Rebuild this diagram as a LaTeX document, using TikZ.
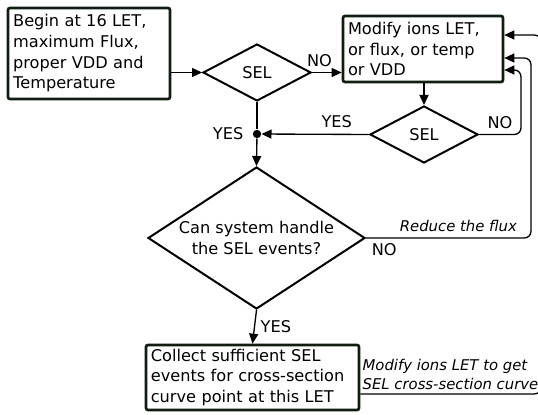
\documentclass[tikz,border=0pt]{standalone}
\usepackage{fontspec}
\setmainfont{DejaVu Sans}
\usetikzlibrary{shapes.geometric,arrows.meta,calc}
\definecolor{boxline}{RGB}{18,28,18}

\begin{document}
\begin{tikzpicture}[x=0.6pt, y=-0.6pt, >={Triangle[length=6pt,width=5.4pt]},
    font=\fontsize{9.7}{12.4}\selectfont,
    box/.style={draw=boxline, line width=1.6pt, rounded corners=1.2pt, align=left, inner xsep=2.6pt, inner ysep=0pt},
    test/.style={diamond, draw, line width=1.2pt, inner sep=0pt},
    flow/.style={line width=0.8pt},
    note/.style={font=\fontsize{8.9}{11.4}\selectfont\itshape}]

\useasboundingbox (0,0) rectangle (538,415);

% boxes
\node[box, text width=91pt, minimum width=97.2pt, minimum height=54.6pt] (start) at (89,53.5)
    {Begin at 16 LET,\\maximum Flux,\\proper VDD and\\Temperature};
\node[box, text width=90pt, minimum width=96pt, minimum height=39.6pt] (modify) at (423,49)
    {Modify ions LET,\\or flux, or temp\\or VDD};
\node[box, text width=122pt, minimum width=127.8pt, minimum height=39pt] (collect) at (252.5,377.5)
    {Collect sufficient SEL\\events for cross-section\\curve point at this LET};

% decisions
\node[test, aspect=1.9, minimum width=64.8pt, minimum height=34.2pt] (sel1) at (257,72.5) {SEL};
\node[test, aspect=1.9, minimum width=64.8pt, minimum height=34.2pt] (sel2) at (424,134.5) {SEL};
\node[test, aspect=1.5, minimum width=130.2pt, minimum height=85.2pt, align=center] (handle) at (256.5,238)
    {Can system handle\\the SEL events?};

\node[circle, fill, inner sep=0pt, minimum size=5pt] (join) at (257,134) {};

% main flow
\draw[flow,->] (sel1.west -| start.east) -- (sel1.west);
\draw[flow,->] (sel1.east) -- (sel1.east -| modify.west) node[pos=0.25, above]{NO};
\draw[flow,->] (modify.south -| sel2.north) -- (sel2.north);
\draw[flow,->] (sel2.west) -- (join) node[pos=0.3, above]{YES};
\draw[flow] (sel1.south) -- (join);
\node[left=2pt] at (join.west) {YES};
\draw[flow,->] (join) -- (handle.north);
\draw[flow,->] (handle.south) -- (collect.north) node[midway, right]{YES};
\node[below right] at (handle.east) {NO};

% loops back
\draw[flow,->, rounded corners=4pt] (sel2.east) -- ++(42,0) node[midway, above]{NO}
    |- ($(modify.east)+(0,21)$);
\draw[flow,->, rounded corners=4pt] (handle.east) -- ++(165,0) node[pos=0.56, above, note]{Reduce the flux}
    |- ($(modify.east)+(0,9)$);
\draw[flow,->, rounded corners=5pt] ($(collect.east)+(0,16.5)$) -- ++(182,0)
    node[pos=0, above right, inner xsep=1pt, inner ysep=2pt, note, align=left]{Modify ions LET to get\\SEL cross-section curve}
    |- ($(modify.east)+(0,-14)$);
\end{tikzpicture}
\end{document}
